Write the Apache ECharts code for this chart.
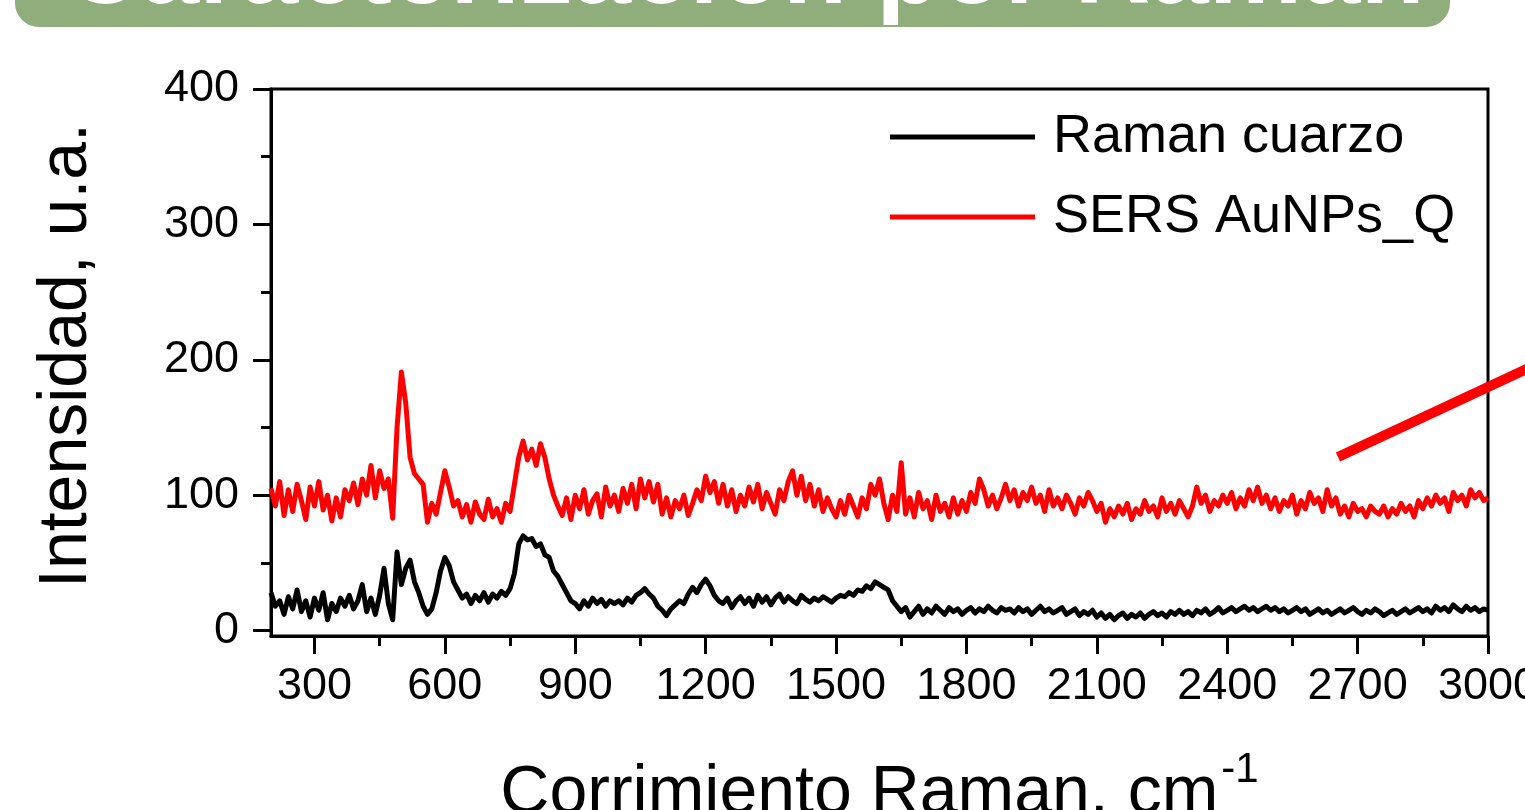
<!DOCTYPE html>
<html>
<head>
<meta charset="utf-8">
<title>Caracterización por Raman</title>
<script src="https://cdn.jsdelivr.net/npm/echarts@6/dist/echarts.min.js"></script>
<style>
  html, body { margin: 0; padding: 0; background: #ffffff; }
  #chart { width: 1525px; height: 810px; }
</style>
</head>
<body>
<div id="chart"></div>
<script>
// Raman shift sampling grid (cm^-1)
const shiftCm = [
  200,210,220,230,240,250,260,270,280,290,
  300,310,320,330,340,350,360,370,380,390,
  400,410,420,430,440,450,460,470,480,490,
  500,510,520,530,540,550,560,570,580,590,
  600,610,620,630,640,650,660,670,680,690,
  700,710,720,730,740,750,760,770,780,790,
  800,810,820,830,840,850,860,870,880,890,
  900,910,920,930,940,950,960,970,980,990,
  1000,1010,1020,1030,1040,1050,1060,1070,1080,1090,
  1100,1110,1120,1130,1140,1150,1160,1170,1180,1190,
  1200,1210,1220,1230,1240,1250,1260,1270,1280,1290,
  1300,1310,1320,1330,1340,1350,1360,1370,1380,1390,
  1400,1410,1420,1430,1440,1450,1460,1470,1480,1490,
  1500,1510,1520,1530,1540,1550,1560,1570,1580,1590,
  1600,1610,1620,1630,1640,1650,1660,1670,1680,1690,
  1700,1710,1720,1730,1740,1750,1760,1770,1780,1790,
  1800,1810,1820,1830,1840,1850,1860,1870,1880,1890,
  1900,1910,1920,1930,1940,1950,1960,1970,1980,1990,
  2000,2010,2020,2030,2040,2050,2060,2070,2080,2090,
  2100,2110,2120,2130,2140,2150,2160,2170,2180,2190,
  2200,2210,2220,2230,2240,2250,2260,2270,2280,2290,
  2300,2310,2320,2330,2340,2350,2360,2370,2380,2390,
  2400,2410,2420,2430,2440,2450,2460,2470,2480,2490,
  2500,2510,2520,2530,2540,2550,2560,2570,2580,2590,
  2600,2610,2620,2630,2640,2650,2660,2670,2680,2690,
  2700,2710,2720,2730,2740,2750,2760,2770,2780,2790,
  2800,2810,2820,2830,2840,2850,2860,2870,2880,2890,
  2900,2910,2920,2930,2940,2950,2960,2970,2980,2990,
  3000
];

// Quartz reference spectrum (a.u.)
const ramanCuarzo = [
  28,18,22,12,25,16,30,14,22,10,
  24,15,28,8,20,14,24,18,26,16,
  22,34,14,24,12,26,46,20,8,58,
  34,46,52,36,28,18,12,16,28,44,
  54,48,36,30,24,27,20,26,22,28,
  21,27,24,29,26,31,42,64,70,67,
  68,62,64,56,54,44,40,34,28,22,
  20,16,22,18,24,20,23,18,22,20,
  22,19,24,21,26,28,31,27,24,18,
  15,11,16,19,22,20,27,32,28,34,
  38,33,26,22,20,24,17,22,25,20,
  24,18,26,21,25,19,24,27,21,25,
  22,20,26,23,21,24,22,25,23,21,
  24,26,25,28,26,30,29,33,31,36,
  34,32,30,22,18,14,17,10,14,18,
  12,16,13,18,15,12,17,14,16,12,
  15,17,13,16,14,18,15,13,17,15,
  16,13,17,14,16,12,15,18,14,16,
  13,15,17,12,14,16,11,14,12,15,
  10,13,9,12,8,11,13,9,12,10,
  13,9,12,14,11,13,10,14,12,15,
  12,14,11,15,13,16,12,14,17,13,
  15,17,14,16,18,15,17,14,16,18,
  15,17,14,16,13,15,17,14,16,12,
  14,16,13,15,12,14,16,13,15,17,
  14,12,15,13,16,14,11,13,15,12,
  14,16,13,15,17,14,16,13,18,15,
  17,14,19,16,14,18,15,17,14,16,
  15
];

// SERS spectrum on gold nanoparticles over quartz (a.u.)
const sersAuNPsQ = [
  105,92,110,85,104,88,108,96,82,106,
  92,110,89,100,81,98,84,104,96,109,
  93,112,100,122,98,118,105,112,83,150,
  191,168,128,116,112,108,80,94,86,102,
  118,106,92,96,84,93,80,95,86,82,
  97,84,90,80,94,88,108,128,140,126,
  134,122,138,128,112,100,92,85,98,82,
  100,90,104,86,96,101,84,106,92,100,
  88,105,94,108,90,112,98,110,95,108,
  86,98,84,96,90,100,85,94,104,96,
  114,102,110,94,108,92,104,88,100,92,
  106,95,108,90,102,94,86,104,96,110,
  118,100,114,96,108,92,104,88,98,90,
  84,96,86,100,92,84,98,90,108,100,
  112,94,82,100,88,124,86,98,84,102,
  90,96,82,100,88,94,84,98,86,96,
  88,102,94,112,104,92,100,90,98,108,
  96,104,92,102,96,106,94,100,88,104,
  92,98,90,100,94,86,98,92,102,96,
  88,94,80,90,84,92,86,94,82,90,
  86,96,88,92,84,98,88,94,86,96,
  90,84,92,106,94,100,88,96,92,100,
  94,102,90,98,92,104,96,106,94,100,
  90,98,88,96,92,100,86,96,90,102,
  94,98,88,104,92,98,86,92,84,94,
  88,90,84,92,88,86,92,84,90,86,
  94,88,92,84,96,90,98,92,100,94,
  98,88,102,96,100,92,104,98,102,96,
  98
];

const seriesNames = ['Raman cuarzo', 'SERS AuNPs_Q'];

// Axis ticks
const xMajorTicks = [300, 600, 900, 1200, 1500, 1800, 2100, 2400, 2700, 3000];
const xMinorTicks = [450, 750, 1050, 1350, 1650, 1950, 2250, 2550, 2850];
const yMajorTicks = [0, 100, 200, 300, 400];
const yMinorTicks = [50, 150, 250, 350];

const FONT = '"Liberation Sans", Arial, Helvetica, sans-serif';
const BLACK = '#000000';
const RED = '#ff0000';

const toPairs = (xs, ys) => xs.map((x, i) => [x, ys[i]]);
const plainNumber = (v) => String(v);

const chart = echarts.init(document.getElementById('chart'), null, { renderer: 'canvas' });

const axisLineStyle = { color: BLACK, width: 3 };

const option = {
  animation: false,
  backgroundColor: '#ffffff',
  textStyle: { fontFamily: FONT, color: BLACK },
  grid: {
    left: 271, right: 37, top: 89, bottom: 174,
    show: true, borderColor: BLACK, borderWidth: 3,
    backgroundColor: 'transparent',
    containLabel: false,
    outerBoundsMode: 'none'
  },
  xAxis: [
    {
      type: 'value', min: 200, max: 3000, position: 'bottom',
      axisLine: { show: true, onZero: false, lineStyle: axisLineStyle },
      axisTick: { show: true, inside: false, length: 18, customValues: xMajorTicks, lineStyle: axisLineStyle },
      axisLabel: { show: true, customValues: xMajorTicks, formatter: plainNumber, color: BLACK, fontSize: 45, margin: 28, fontFamily: FONT, hideOverlap: false },
      splitLine: { show: false },
      name: '{a|Corrimiento Raman, cm}{s|-1}',
      nameLocation: 'middle',
      nameGap: 113,
      nameMoveOverlap: false,
      nameTextStyle: {
        color: BLACK,
        fontFamily: FONT,
        rich: {
          a: { fontSize: 68, lineHeight: 79, fontFamily: FONT, color: BLACK, verticalAlign: 'bottom' },
          s: { fontSize: 42, lineHeight: 42, fontFamily: FONT, color: BLACK, verticalAlign: 'top', padding: [0, 0, 0, 3] }
        }
      }
    },
    {
      type: 'value', min: 200, max: 3000, position: 'bottom',
      axisLine: { show: false, onZero: false },
      axisTick: { show: true, inside: false, length: 10, customValues: xMinorTicks, lineStyle: axisLineStyle },
      axisLabel: { show: false },
      splitLine: { show: false }
    }
  ],
  yAxis: [
    {
      type: 'value', min: -4, max: 400, position: 'left',
      axisLine: { show: true, onZero: false, lineStyle: axisLineStyle },
      axisTick: { show: true, inside: false, length: 18, customValues: yMajorTicks, lineStyle: axisLineStyle },
      axisLabel: { show: true, customValues: yMajorTicks, formatter: plainNumber, color: BLACK, fontSize: 45, margin: 32, fontFamily: FONT },
      splitLine: { show: false },
      name: 'Intensidad, u.a.',
      nameLocation: 'middle',
      nameGap: 170,
      nameMoveOverlap: false,
      nameTextStyle: { fontSize: 68, color: BLACK, fontFamily: FONT, padding: [0, 0, 0, 14] }
    },
    {
      type: 'value', min: -4, max: 400, position: 'left',
      axisLine: { show: false, onZero: false },
      axisTick: { show: true, inside: false, length: 10, customValues: yMinorTicks, lineStyle: axisLineStyle },
      axisLabel: { show: false },
      splitLine: { show: false }
    }
  ],
  legend: {
    orient: 'vertical',
    left: 890,
    top: 107,
    padding: 0,
    itemWidth: 145,
    itemHeight: 5,
    itemGap: 20,
    icon: 'rect',
    selectedMode: false,
    data: seriesNames,
    textStyle: { fontSize: 54, lineHeight: 60, color: BLACK, fontFamily: FONT, padding: [0, 0, 0, 13] }
  },
  series: [
    {
      name: seriesNames[0], type: 'line', xAxisIndex: 0, yAxisIndex: 0,
      data: toPairs(shiftCm, ramanCuarzo),
      showSymbol: false, symbol: 'none',
      lineStyle: { color: BLACK, width: 5, join: 'round' },
      itemStyle: { color: BLACK },
      z: 3
    },
    {
      name: seriesNames[1], type: 'line', xAxisIndex: 0, yAxisIndex: 0,
      data: toPairs(shiftCm, sersAuNPsQ),
      showSymbol: false, symbol: 'none',
      lineStyle: { color: RED, width: 5, join: 'round' },
      itemStyle: { color: RED },
      z: 3
    }
  ],
  graphic: [
    // heading banner
    {
      type: 'rect', z: 100,
      shape: { x: 15, y: -60, width: 1435, height: 87, r: 24 },
      style: { fill: '#8fae7b' }
    },
    {
      type: 'text', z: 101,
      x: 65, y: -26,
      style: {
        text: 'Caracterización por Raman',
        fill: '#ffffff',
        font: 'bold 105px "Liberation Sans", Arial, sans-serif',
        align: 'left',
        verticalAlign: 'middle'
      }
    },
    // callout stroke
    {
      type: 'line', z: 100,
      shape: { x1: 1338, y1: 457, x2: 1565, y2: 351 },
      style: { stroke: RED, lineWidth: 10, lineCap: 'butt' }
    }
  ]
};

chart.setOption(option);
</script>
</body>
</html>
